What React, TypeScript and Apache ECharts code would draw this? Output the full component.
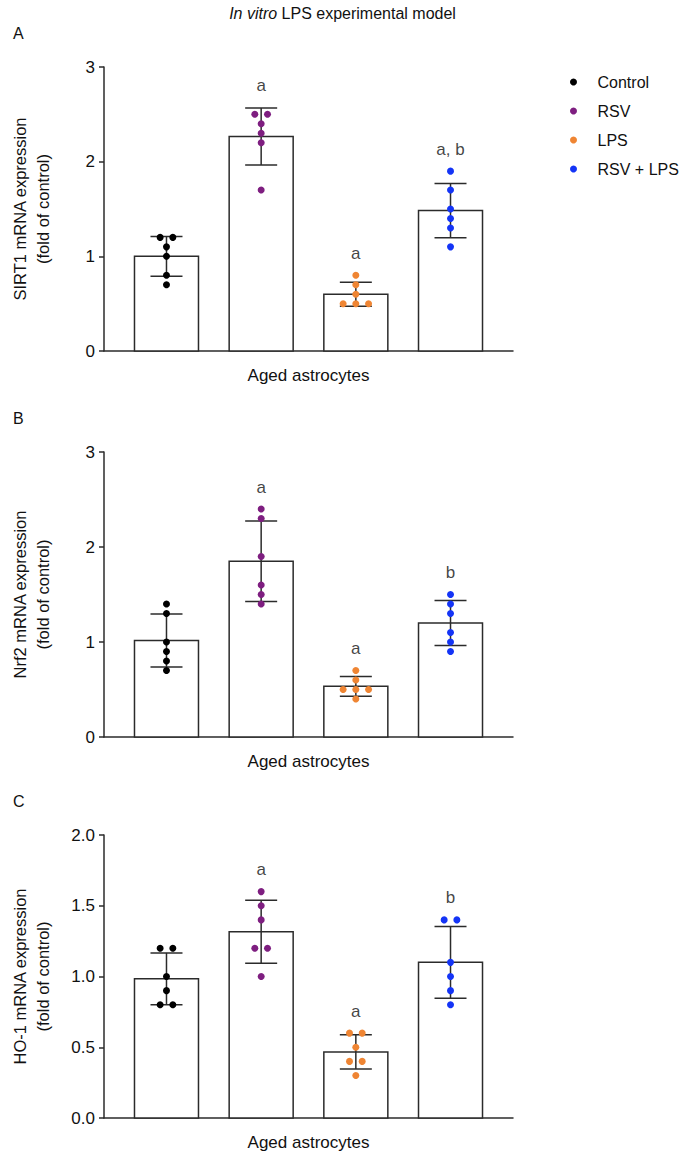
import React, { useEffect, useRef } from 'react';
import * as echarts from 'echarts';

const groups = ['Control', 'RSV', 'LPS', 'RSV + LPS'];
const groupColors = ['#000000', '#7e1e80', '#ef8533', '#1434f6'];

const sirt1Control = [1.2, 1.2, 1.1, 1.0, 0.8, 0.7];
const sirt1RSV = [2.5, 2.5, 2.4, 2.3, 2.2, 1.7];
const sirt1LPS = [0.8, 0.7, 0.6, 0.5, 0.5, 0.5];
const sirt1RSVLPS = [1.9, 1.7, 1.5, 1.4, 1.3, 1.1];
const sirt1Letters = ['', 'a', 'a', 'a, b'];

const nrf2Control = [1.4, 1.3, 1.0, 0.9, 0.8, 0.7];
const nrf2RSV = [2.4, 2.3, 1.9, 1.6, 1.5, 1.4];
const nrf2LPS = [0.7, 0.6, 0.5, 0.5, 0.5, 0.4];
const nrf2RSVLPS = [1.5, 1.4, 1.3, 1.1, 1.0, 0.9];
const nrf2Letters = ['', 'a', 'a', 'b'];

const ho1Control = [1.2, 1.2, 1.0, 0.9, 0.8, 0.8];
const ho1RSV = [1.6, 1.5, 1.4, 1.2, 1.2, 1.0];
const ho1LPS = [0.6, 0.6, 0.5, 0.4, 0.4, 0.3];
const ho1RSVLPS = [1.4, 1.4, 1.1, 1.0, 0.9, 0.8];
const ho1Letters = ['', 'a', 'a', 'b'];

const panelLetters = ['A', 'B', 'C'];
const yNames = [
  'SIRT1 mRNA expression\n(fold of control)',
  'Nrf2 mRNA expression\n(fold of control)',
  'HO-1 mRNA expression\n(fold of control)',
];
const yMaxes = [3, 3, 2];
const yIntervals = [1, 1, 0.5];
const yDecimals = [0, 0, 1];
const xName = 'Aged astrocytes';
const titleItalic = 'In vitro';
const titleRest = ' LPS experimental model';

const FONT = '"Liberation Sans", Arial, Helvetica, sans-serif';
const INK = '#2b2b2b';

const mean = (a: number[]) => a.reduce((s, v) => s + v, 0) / a.length;
const sd = (a: number[]) => {
  const m = mean(a);
  return Math.sqrt(a.reduce((s, v) => s + (v - m) * (v - m), 0) / (a.length - 1));
};

// beeswarm horizontal offsets (px) for equal values
const swarmOffsets = (a: number[], step: number) => {
  const counts: Record<string, number> = {};
  a.forEach((v) => (counts[v.toFixed(3)] = (counts[v.toFixed(3)] || 0) + 1));
  const seen: Record<string, number> = {};
  return a.map((v) => {
    const k = v.toFixed(3);
    const n = counts[k];
    const idx = seen[k] || 0;
    seen[k] = idx + 1;
    return (idx - (n - 1) / 2) * step;
  });
};

export default function App() {
  const ref = useRef<HTMLDivElement>(null);

  useEffect(() => {
    document.body.style.margin = '0';
    if (!ref.current) return;
    const chart = echarts.init(ref.current, undefined, { renderer: 'svg' });

    const panels = [
      { values: [sirt1Control, sirt1RSV, sirt1LPS, sirt1RSVLPS], letters: sirt1Letters },
      { values: [nrf2Control, nrf2RSV, nrf2LPS, nrf2RSVLPS], letters: nrf2Letters },
      { values: [ho1Control, ho1RSV, ho1LPS, ho1RSVLPS], letters: ho1Letters },
    ];

    const gridTops = [67, 452, 835];
    const gridHeights = [284, 285, 283];
    const gridLeft = 87;
    const gridWidth = 426;
    const barW = 64;

    const grids: any[] = [];
    const xAxes: any[] = [];
    const yAxes: any[] = [];
    const series: any[] = [];
    const titles: any[] = [
      {
        text: `{i|${titleItalic}}${titleRest}`,
        left: 'center',
        top: 0,
        textStyle: {
          fontFamily: FONT,
          fontSize: 16,
          fontWeight: 'normal',
          color: '#111',
          rich: { i: { fontStyle: 'italic', fontFamily: FONT, fontSize: 16, color: '#111' } },
        },
      },
    ];

    panels.forEach((p, pi) => {
      grids.push({ left: gridLeft, top: gridTops[pi], width: gridWidth, height: gridHeights[pi] });
      titles.push({
        text: panelLetters[pi],
        left: 8,
        top: gridTops[pi] - 47,
        textStyle: { fontFamily: FONT, fontSize: 16, fontWeight: 'normal', color: '#111' },
      });
      xAxes.push({
        type: 'value',
        gridIndex: pi,
        min: -0.66,
        max: 3.66,
        axisLine: { show: true, onZero: false, lineStyle: { color: INK, width: 1.5 } },
        axisTick: { show: false },
        axisLabel: { show: false },
        splitLine: { show: false },
        name: xName,
        nameLocation: 'middle',
        nameGap: 16,
        nameTextStyle: { fontFamily: FONT, fontSize: 17, color: '#111' },
      });
      yAxes.push({
        type: 'value',
        gridIndex: pi,
        min: 0,
        max: yMaxes[pi],
        interval: yIntervals[pi],
        axisLine: { show: true, onZero: false, lineStyle: { color: INK, width: 1.5 } },
        axisTick: { show: true, length: 5, lineStyle: { color: INK, width: 1.5 } },
        axisLabel: {
          margin: 9,
          fontFamily: FONT,
          fontSize: 17,
          color: '#111',
          formatter: (v: number) => v.toFixed(yDecimals[pi]),
        },
        splitLine: { show: false },
        name: yNames[pi],
        nameLocation: 'middle',
        nameGap: 50,
        nameRotate: 90,
        nameTextStyle: { fontFamily: FONT, fontSize: 16.5, color: '#111', lineHeight: 23 },
      });

      const means = p.values.map(mean);
      const sds = p.values.map(sd);

      // bars (mean), drawn through the axes' scales
      series.push({
        type: 'custom',
        name: 'mean',
        xAxisIndex: pi,
        yAxisIndex: pi,
        silent: true,
        z: 1,
        data: means.map((m, i) => [i, m]),
        renderItem: (_params: any, api: any) => {
          const x = api.value(0);
          const m = api.value(1);
          const top = api.coord([x, m]);
          const base = api.coord([x, 0]);
          return {
            type: 'rect',
            shape: { x: top[0] - barW / 2, y: top[1], width: barW, height: base[1] - top[1] },
            style: { fill: '#ffffff', stroke: INK, lineWidth: 1.5 },
          };
        },
      });

      // error bars (SD)
      series.push({
        type: 'custom',
        name: 'sd',
        xAxisIndex: pi,
        yAxisIndex: pi,
        silent: true,
        z: 2,
        data: means.map((m, i) => [i, m, sds[i]]),
        renderItem: (_params: any, api: any) => {
          const x = api.value(0);
          const m = api.value(1);
          const s = api.value(2);
          const top = api.coord([x, m + s]);
          const bot = api.coord([x, m - s]);
          const cw = 16;
          const st = { stroke: INK, lineWidth: 1.5 };
          return {
            type: 'group',
            children: [
              { type: 'line', shape: { x1: top[0], y1: top[1], x2: bot[0], y2: bot[1] }, style: st },
              { type: 'line', shape: { x1: top[0] - cw, y1: top[1], x2: top[0] + cw, y2: top[1] }, style: st },
              { type: 'line', shape: { x1: bot[0] - cw, y1: bot[1], x2: bot[0] + cw, y2: bot[1] }, style: st },
            ],
          };
        },
      });

      p.values.forEach((vals, gi) => {
        const offs = swarmOffsets(vals, 12.7);
        series.push({
          type: 'scatter',
          name: groups[gi],
          xAxisIndex: pi,
          yAxisIndex: pi,
          symbol: 'circle',
          symbolSize: 7,
          z: 3,
          itemStyle: { color: groupColors[gi], opacity: 1 },
          data: vals.map((v, k) => ({ value: [gi, v], symbolOffset: [offs[k], 0] })),
        });
      });

      series.push({
        type: 'scatter',
        name: 'letters',
        xAxisIndex: pi,
        yAxisIndex: pi,
        symbolSize: 1,
        silent: true,
        z: 4,
        itemStyle: { color: 'rgba(0,0,0,0)' },
        label: {
          show: true,
          position: 'top',
          distance: 13,
          fontFamily: FONT,
          fontSize: 17,
          color: '#111',
          formatter: (d: any) => d.name,
        },
        data: p.letters
          .map((l, gi) => ({
            name: l,
            value: [gi, Math.max(Math.max(...p.values[gi]), means[gi] + sds[gi])],
          }))
          .filter((d) => d.name !== ''),
      });
    });

    chart.setOption({
      animation: false,
      backgroundColor: '#ffffff',
      textStyle: { fontFamily: FONT },
      title: titles,
      legend: {
        data: groups,
        orient: 'vertical',
        left: 565,
        top: 69,
        icon: 'circle',
        itemWidth: 14,
        itemHeight: 7,
        itemGap: 13,
        selectedMode: false,
        textStyle: { fontFamily: FONT, fontSize: 16, color: '#111', lineHeight: 16, padding: [0, 0, 0, 12] },
      },
      grid: grids,
      xAxis: xAxes,
      yAxis: yAxes,
      series,
    });

    return () => chart.dispose();
  }, []);

  return <div ref={ref} style={{ width: 685, height: 1155 }} />;
}
